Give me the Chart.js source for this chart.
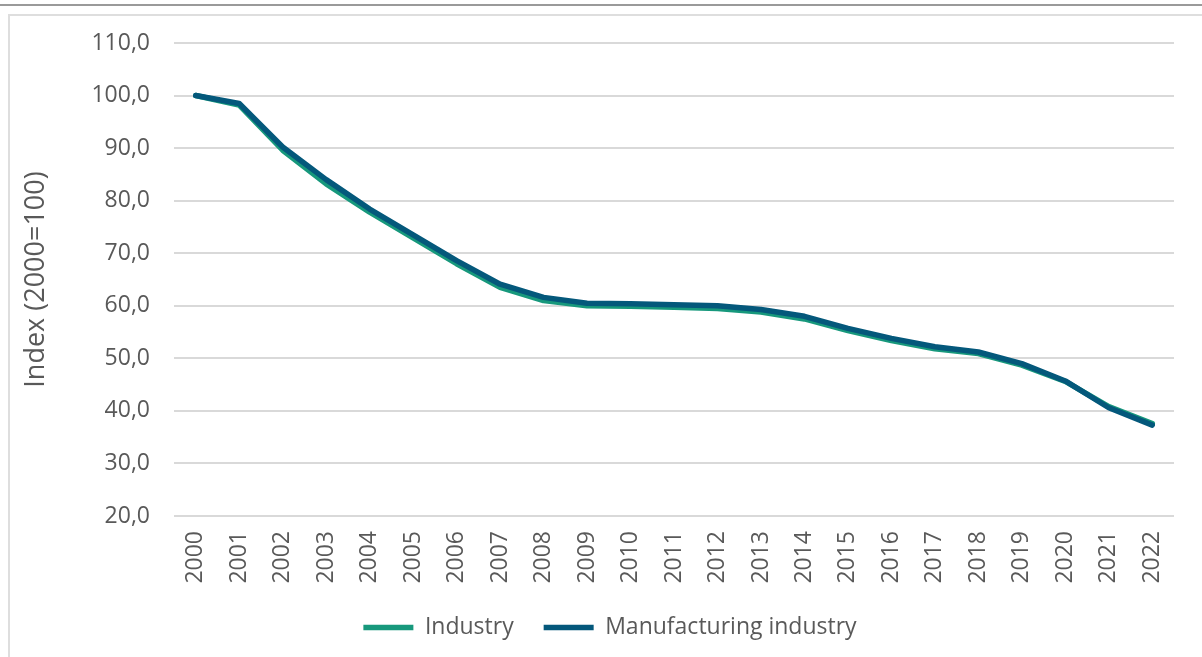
<!DOCTYPE html>
<html>
<head>
<meta charset="utf-8">
<script src="https://cdn.jsdelivr.net/npm/chart.js@4.4.1/dist/chart.umd.min.js"></script>
<style>
  html, body { margin: 0; padding: 0; background: #fff; overflow: hidden; }
  #topline { position: absolute; left: 0; top: 4px; width: 1202px; height: 2px; background: #9a9a9a; }
  #frame { position: absolute; left: 8px; top: 14px; width: 1400px; height: 900px; border-left: 2px solid #dedede; border-top: 2px solid #dedede; }
  #wrap { position: absolute; left: 0; top: 0; width: 1202px; height: 657px; }
</style>
</head>
<body>
<div id="topline"></div>
<div id="frame"></div>
<div id="wrap"><canvas id="myChart"></canvas></div>
<script>
var years = ["2000", "2001", "2002", "2003", "2004", "2005", "2006", "2007", "2008", "2009", "2010", "2011",
  "2012", "2013", "2014", "2015", "2016", "2017", "2018", "2019", "2020", "2021", "2022"];
var industry = [100, 98.2, 89.6, 83.2, 77.8, 72.9, 68.0, 63.5, 61.0, 60.0, 59.9, 59.7,
  59.5, 58.8, 57.5, 55.3, 53.4, 51.8, 50.9, 48.7, 45.6, 40.8, 37.6];
var manufacturing = [100, 98.5, 90.2, 84.0, 78.4, 73.5, 68.6, 64.1, 61.6, 60.5, 60.4, 60.2,
  60.0, 59.3, 58.0, 55.7, 53.8, 52.2, 51.2, 49.0, 45.7, 40.6, 37.3];
var seriesNames = ["Industry", "Manufacturing industry"];
var yTitle = "Index (2000=100)";

var textColor = "#595959";
var font = "'Open Sans', 'Noto Sans', sans-serif";

const ctx = document.getElementById("myChart");
new Chart(ctx, {
  type: "line",
  data: {
    labels: years,
    datasets: [
      {
        label: seriesNames[0],
        data: industry,
        borderColor: "#17987c",
        backgroundColor: "#17987c",
        borderWidth: 5.5,
        borderCapStyle: "round",
        borderJoinStyle: "round",
        pointRadius: 0,
        tension: 0,
        order: 1
      },
      {
        label: seriesNames[1],
        data: manufacturing,
        borderColor: "#04587b",
        backgroundColor: "#04587b",
        borderWidth: 5.5,
        borderCapStyle: "round",
        borderJoinStyle: "round",
        pointRadius: 0,
        tension: 0,
        order: 0
      }
    ]
  },
  options: {
    responsive: true,
    maintainAspectRatio: false,
    animation: false,
    // left padding is wide so the legend centres where the original does
    layout: { padding: { left: 46, right: 28, top: 43, bottom: 8 } },
    plugins: {
      tooltip: { enabled: false },
      legend: {
        position: "bottom",
        labels: {
          usePointStyle: true,
          pointStyle: "line",
          pointStyleWidth: 50,
          color: textColor,
          font: { family: font, size: 23 },
          padding: 30,
          sort: function (a, b) { return a.datasetIndex - b.datasetIndex; }
        }
      }
    },
    scales: {
      x: {
        offset: true,
        grid: { display: false, drawTicks: false },
        border: { display: false },
        ticks: {
          color: textColor,
          font: { family: font, size: 23 },
          maxRotation: 90,
          minRotation: 90,
          padding: 15,
          autoSkip: false
        },
        afterFit: function (scale) { scale.height = 70; }
      },
      y: {
        min: 20,
        max: 110,
        grid: { color: "#d9d9d9", lineWidth: 2, drawTicks: false },
        border: { display: false },
        ticks: {
          stepSize: 10,
          color: textColor,
          font: { family: font, size: 23 },
          padding: 24,
          callback: function (v) { return v.toFixed(1).replace(".", ","); }
        },
        title: {
          display: true,
          text: yTitle,
          color: textColor,
          font: { family: font, size: 27 },
          padding: { top: -26, bottom: 0 }
        },
        afterFit: function (scale) { scale.width = 128; }
      }
    }
  }
});
</script>
</body>
</html>
